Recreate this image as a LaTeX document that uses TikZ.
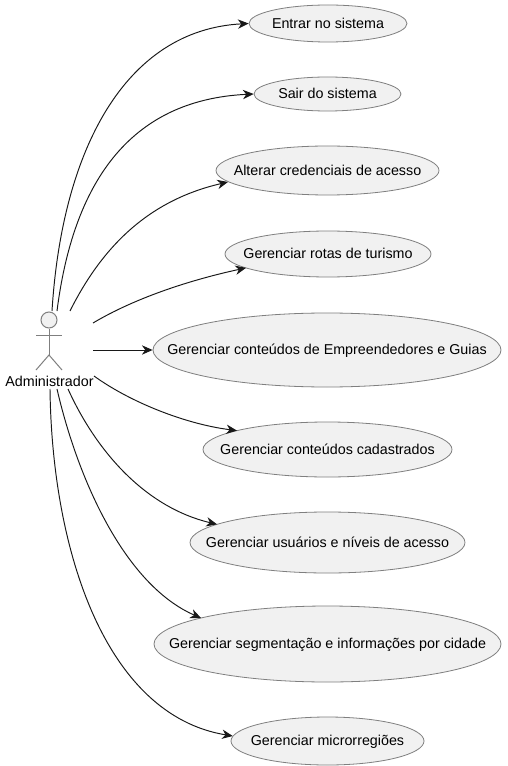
\documentclass[tikz,border=0pt]{standalone}
\usepackage{fontspec}
\setmainfont{Liberation Sans}
\usetikzlibrary{shapes.geometric,arrows.meta}
\definecolor{ucfill}{HTML}{F1F1F1}
\definecolor{ucline}{HTML}{7F7F7F}
\definecolor{edgeline}{HTML}{181818}
\newcommand{\uctext}[1]{\smash{\raisebox{-3.4pt}{\makebox[0pt][c]{#1}}}}
\tikzset{
  uc/.style={ellipse,draw=ucline,fill=ucfill,line width=0.6pt,inner sep=0pt,font=\fontsize{10.72}{12}\selectfont,text=black},
  link/.style={draw=edgeline,line width=0.72pt,-{Stealth[length=8pt,width=7pt,inset=2.5pt]}},
  actorline/.style={draw=ucline,line width=0.75pt}
}
\begin{document}
\begin{tikzpicture}[x=0.75pt,y=-0.75pt]
\useasboundingbox (0,0) rectangle (507,766);
\fill[white] (0,0) rectangle (507,766);
\node[uc,minimum width=118.5pt,minimum height=27.75pt] (e1) at (328,23.5) {\uctext{Entrar no sistema}};
\node[uc,minimum width=110.25pt,minimum height=25.5pt] (e2) at (327.5,94) {\uctext{Sair do sistema}};
\node[uc,minimum width=167.25pt,minimum height=36.75pt] (e3) at (327.5,170.5) {\uctext{Alterar credenciais de acesso}};
\node[uc,minimum width=154.5pt,minimum height=34.5pt] (e4) at (328,254) {\uctext{Gerenciar rotas de turismo}};
\node[uc,minimum width=261pt,minimum height=55.5pt] (e5) at (327,350) {\uctext{Gerenciar conteúdos de Empreendedores e Guias}};
\node[uc,minimum width=186.75pt,minimum height=41.25pt] (e6) at (327.5,449.5) {\uctext{Gerenciar conteúdos cadastrados}};
\node[uc,minimum width=206.25pt,minimum height=45.75pt] (e7) at (327.5,542.5) {\uctext{Gerenciar usuários e níveis de acesso}};
\node[uc,minimum width=260.25pt,minimum height=57pt] (e8) at (327.5,644) {\uctext{Gerenciar segmentação e informações por cidade}};
\node[uc,minimum width=144.75pt,minimum height=36pt] (e9) at (327.5,741) {\uctext{Gerenciar microrregiões}};
% actor
\node[circle,draw=ucline,fill=ucfill,line width=0.75pt,minimum size=12pt,inner sep=0pt] (head) at (49,320) {};
\coordinate (hip) at (49,355);
\coordinate (armL) at (36,335);
\coordinate (armR) at (62,335);
\coordinate (legL) at (36,370);
\coordinate (legR) at (62,370);
\draw[actorline] (head.south) -- (hip);
\draw[actorline] (armL) -- (armR);
\draw[actorline] (legL) -- (hip) -- (legR);
\node[font=\fontsize{10.72}{12}\selectfont,inner sep=0pt] (actor) at (49.5,381) {Administrador};
% free ends
\coordinate (s1) at (52,311);
\coordinate (s2) at (57,311);
\coordinate (s3) at (70,311);
\coordinate (s4) at (93,323);
\coordinate (s5) at (93,350);
\coordinate (s6) at (94,376);
\coordinate (s7) at (68,389);
\coordinate (s8) at (57,389);
\coordinate (s9) at (50,389);
\draw[link] (s1) .. controls (62,150) and (125,30) .. (e1.west);
\draw[link] (s2) .. controls (73,185) and (128,100) .. (e2.west);
\draw[link] (s3) .. controls (103,245) and (150,200) .. ([shift={(-99.5,11.5)}]e3.center);
\draw[link] (s4) .. controls (135,298) and (190,280) .. ([shift={(-82,13.9)}]e4.center);
\draw[link] (s5) -- (e5.west);
\draw[link] (s6) .. controls (130,402) and (185,424) .. ([shift={(-90.5,-18.9)}]e6.center);
\draw[link] (s7) .. controls (98,455) and (148,508) .. ([shift={(-110.5,-18.2)}]e7.center);
\draw[link] (s8) .. controls (78,480) and (125,585) .. ([shift={(-126.5,-26)}]e8.center);
\draw[link] (s9) .. controls (52,550) and (105,715) .. ([shift={(-94.8,-5)}]e9.center);
\end{tikzpicture}
\end{document}
